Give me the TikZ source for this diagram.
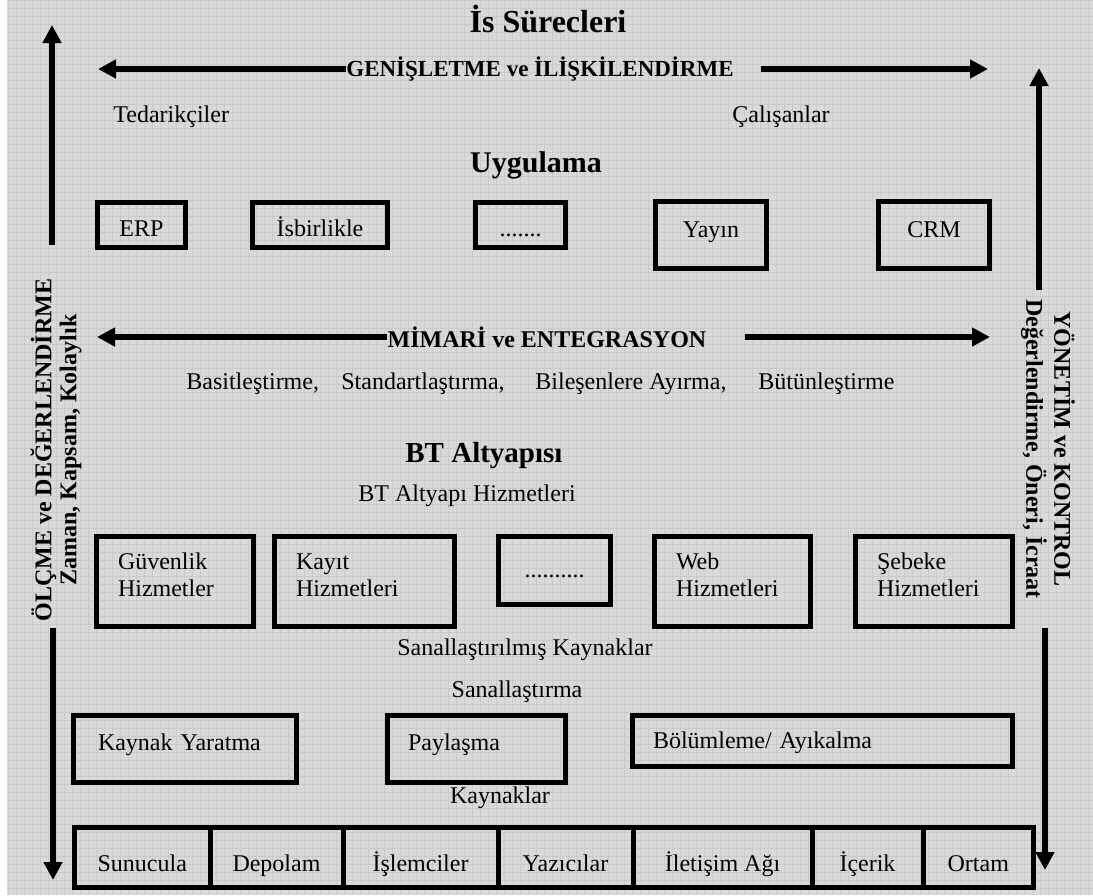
\documentclass[tikz,border=0pt]{standalone}
\usepackage{fontspec}
\setmainfont{Liberation Serif}
\usetikzlibrary{arrows.meta,calc}
\definecolor{paper}{RGB}{217,217,217}
\definecolor{gridc}{RGB}{202,202,202}
\begin{document}
\begin{tikzpicture}[x=0.5pt,y=-0.5pt,
  box/.style={draw=black, line width=2.5pt, inner sep=0pt, font=\fontsize{12}{13.5}\selectfont},
  appbox/.style={box, minimum height=22.5pt, text height=11pt, text depth=0pt},
  tallbox/.style={box, minimum height=33.5pt, text height=8pt, text depth=6pt},
  svcbox/.style={box, align=left, inner xsep=10.75pt, minimum height=45pt, text height=8.2pt, text depth=20.7pt, text width=#1},
  virtbox/.style={box, align=left, text height=8pt, text depth=7pt, minimum height=33.5pt},
  cell/.style={box, minimum height=30pt, text height=13.5pt, text depth=0pt},
  txt/.style={inner sep=0pt, font=\fontsize{12}{13.5}\selectfont},
  head/.style={inner sep=0pt, font=\fontsize{15}{17}\selectfont\bfseries},
  band/.style={inner sep=0pt, font=\fontsize{11.5}{13}\selectfont\bfseries},
  side/.style={inner sep=0pt, align=center},
  arr/.style={line width=3pt, -{Triangle[length=9pt,width=9pt]}}
]
% page and background texture
\useasboundingbox (0,0) rectangle (1093,895);
\fill[white] (0,0) rectangle (1093,895);
\fill[paper] (7,0) rectangle (1093,895);
\draw[gridc, line width=0.3pt, step=4pt] (7,895) grid (1093,0);

% business processes
\node[inner sep=0pt, font=\fontsize{16}{18}\selectfont\bfseries, anchor=base] (title) at (548,32) {İs Sürecleri};
\node[band] (gen) at (540,69) {GENİŞLETME ve İLİŞKİLENDİRME};
\coordinate (genL) at (98,69);
\coordinate (genR) at (988,69);
\draw[arr] (gen.west) -- (genL);
\draw[arr] ($(gen.east)+(27,0)$) -- (genR);
\node[txt, anchor=base west] (sup) at (113,122) {Tedarikçiler};
\node[txt, anchor=base west] (emp) at (732,122) {Çalışanlar};

% applications
\node[head, anchor=base] (app) at (536,172) {Uygulama};
\node[appbox, minimum width=44pt] (erp) at (141.5,225) {ERP};
\node[appbox, minimum width=67.5pt] (isb) at (320,225) {İsbirlikle};
\node[appbox, minimum width=45pt] (appdots) at (520.5,225) {.......};
\node[tallbox, minimum width=55.5pt] (yay) at (711,235) {Yayın};
\node[tallbox, minimum width=55.5pt] (crm) at (934,235) {CRM};

% architecture and integration
\node[band, font=\fontsize{12}{13}\selectfont\bfseries] (mim) at (547,337) {MİMARİ ve ENTEGRASYON};
\coordinate (mimL) at (97,337);
\coordinate (mimR) at (990,337);
\draw[arr] (mim.west) -- (mimL);
\draw[arr] ($(mim.east)+(38,0)$) -- (mimR);
\node[txt, anchor=base west] (p1) at (186,389) {Basitleştirme,};
\node[txt, anchor=base west] (p2) at (341,389) {Standartlaştırma,};
\node[txt, anchor=base west] (p3) at (535,389) {Bileşenlere Ayırma,};
\node[txt, anchor=base west] (p4) at (758,389) {Bütünleştirme};

% IT infrastructure services
\node[inner sep=0pt, font=\fontsize{14.5}{16}\selectfont\bfseries, anchor=base west] (bt) at (405,462) {BT Altyapısı};
\node[txt, anchor=base] (bth) at (467,501) {BT Altyapı Hizmetleri};
\node[svcbox=57pt] (sec) at (175,581.5) {Güvenlik\\Hizmetler};
\node[svcbox=68.5pt] (rec) at (364.5,581.5) {Kayıt\\Hizmetleri};
\node[box, minimum width=56pt, minimum height=34pt, text height=6.5pt, text depth=0pt] (svcdots) at (554.5,570.5) {..........};
\node[svcbox=56.5pt] (web) at (732.5,581.5) {Web\\Hizmetleri};
\node[svcbox=57pt] (net) at (934,581.5) {Şebeke\\Hizmetleri};

% virtualisation
\node[txt, anchor=base] (vres) at (525,655) {Sanallaştırılmış Kaynaklar};
\node[txt, anchor=base] (virt) at (517,697) {Sanallaştırma};
\node[virtbox, inner xsep=12.25pt, text width=87pt] (create) at (185,749) {Kaynak Yaratma};
\node[virtbox, inner xsep=10.25pt, text width=68.5pt] (share) at (476.5,749) {Paylaşma};
\node[virtbox, inner xsep=10.25pt, text width=169.5pt, minimum height=25.5pt, text depth=1pt] (part) at (822.5,741) {Bölümleme/ Ayıkalma};

% resources
\node[txt, anchor=base] (res) at (500,803) {Kaynaklar};
\node[cell, minimum width=67.75pt] (r1) at (142.25,857.5) {Sunucula};
\node[cell, minimum width=66.5pt] (r2) at (276.5,857.5) {Depolam};
\node[cell, minimum width=77.5pt] (r3) at (420.5,857.5) {İşlemciler};
\node[cell, minimum width=67.5pt] (r4) at (565.5,857.5) {Yazıcılar};
\node[cell, minimum width=89.5pt] (r5) at (722.5,857.5) {İletişim Ağı};
\node[cell, minimum width=55.5pt] (r6) at (867.5,857.5) {İçerik};
\node[cell, minimum width=55.25pt] (r7) at (978.25,857.5) {Ortam};

% measurement (left) and governance (right)
\node[side, rotate=90, font=\fontsize{12}{12.5}\selectfont\bfseries] (meas) at (56,450) {ÖLÇME ve DEĞERLENDİRME\\Zaman, Kapsam, Kolaylık};
\node[side, rotate=-90, font=\fontsize{12}{14}\selectfont\bfseries] (gov) at (1048,449) {YÖNETİM ve KONTROL\\Değerlendirme, Öneri, İcraat};
\coordinate (luS) at (52,245);
\coordinate (luE) at (52,25);
\coordinate (ldS) at (53,628);
\coordinate (ldE) at (53,880);
\coordinate (ruS) at (1039,290);
\coordinate (ruE) at (1039,68);
\coordinate (rdS) at (1045,628);
\coordinate (rdE) at (1045,870);
\draw[arr] (luS) -- (luE);
\draw[arr] (ldS) -- (ldE);
\draw[arr] (ruS) -- (ruE);
\draw[arr] (rdS) -- (rdE);
\end{tikzpicture}
\end{document}
